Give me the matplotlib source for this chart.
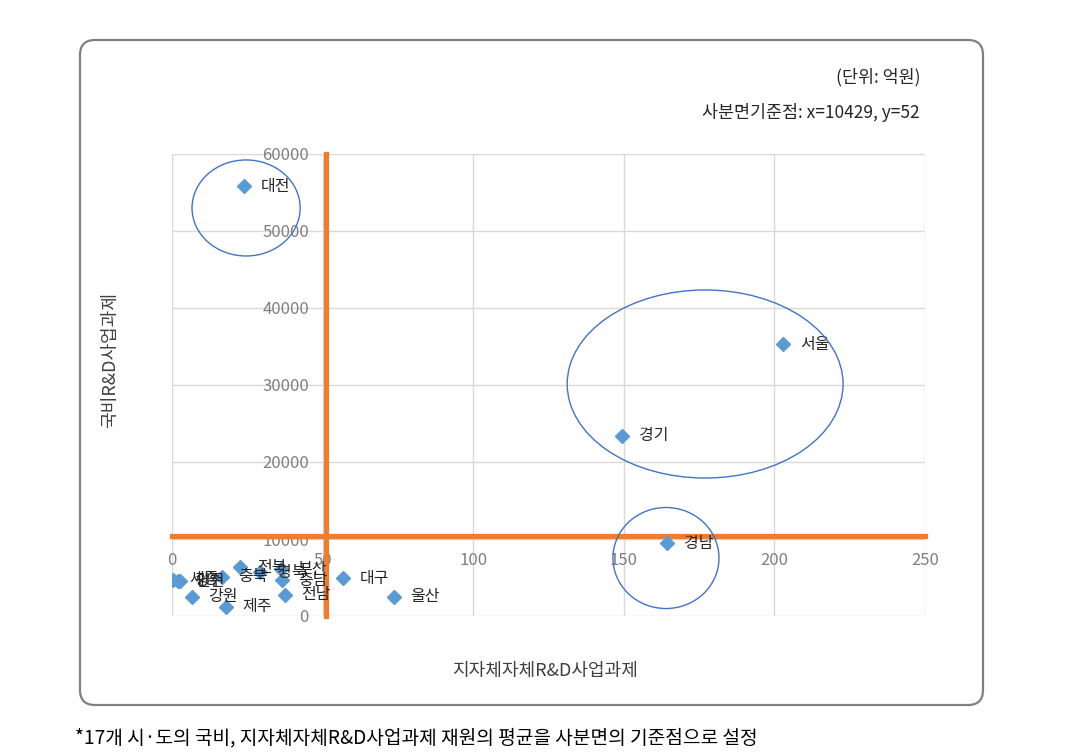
import matplotlib.pyplot as plt
from matplotlib.patches import Ellipse, FancyBboxPatch

plt.rcParams['font.family'] = ['Noto Sans CJK KR', 'DejaVu Sans']

# 시도별 값 (x: 지자체자체R&D사업과제, y: 국비R&D사업과제)
regions = ['대전', '서울', '경기', '경남', '대구', '울산', '전남', '제주', '강원',
           '전북', '충북', '경북', '부산', '충남', '세종', '광주', '인천']
x_vals = [23.9, 202.9, 149.4, 164.3, 56.8, 73.7, 37.5, 17.9, 6.6,
          22.6, 16.6, 29.2, 36.2, 36.5, 0.3, 2.0, 2.5]
y_vals = [55800, 35300, 23400, 9480, 4935, 2470, 2730, 1170, 2470,
          6360, 5065, 5710, 6100, 4675, 4700, 4550, 4500]

# 사분면 기준점
x_ref = 51
y_ref = 10429

# 강조 타원 (중심 x, 중심 y, 폭, 높이)
ell_cx = [24.6, 177.0, 164.0]
ell_cy = [52990, 30130, 7530]
ell_w = [35.9, 91.6, 35.2]
ell_h = [12470, 24420, 13120]

x_ticks = [0, 50, 100, 150, 200, 250]
y_ticks = [0, 10000, 20000, 30000, 40000, 50000, 60000]

fig = plt.figure(figsize=(10.7, 7.56), dpi=100)

# 둥근 테두리
frame = FancyBboxPatch((0.80, 0.51), 9.03, 6.65, boxstyle='round,pad=0,rounding_size=0.15',
                       transform=fig.dpi_scale_trans, fill=False, edgecolor='#808080',
                       linewidth=1.6)
fig.patches.append(frame)

ax = fig.add_axes([172/1070, 1-616/756, 753/1070, 462/756])
ax.set_xlim(0, 250)
ax.set_ylim(0, 60000)
ax.set_xticks(x_ticks)
ax.set_yticks(y_ticks)
ax.grid(True, color='#d9d9d9', linewidth=1)
ax.set_axisbelow(True)

for s in ['top', 'right']:
    ax.spines[s].set_visible(False)
ax.spines['left'].set_position(('data', x_ref))
ax.spines['bottom'].set_position(('data', y_ref))
for s in ['left', 'bottom']:
    ax.spines[s].set_color('#ED7D31')
    ax.spines[s].set_linewidth(3.8)
    ax.spines[s].set_zorder(2.5)

ax.tick_params(length=0, labelsize=12, labelcolor='#7f7f7f', pad=12)

ax.plot(x_vals, y_vals, 'D', color='#5B9BD5', markersize=7, zorder=3)
for name, x, y in zip(regions, x_vals, y_vals):
    ax.annotate(name, (x, y), xytext=(12, 0), textcoords='offset points',
                va='center', ha='left', fontsize=11.5, color='#262626', zorder=4)

for cx, cy, w, h in zip(ell_cx, ell_cy, ell_w, ell_h):
    ax.add_patch(Ellipse((cx, cy), w, h, fill=False, edgecolor='#4472C4', linewidth=1, zorder=4))

fig.text(110/1070, 1-360/756, '국비R&D사업과제', rotation=90, ha='center', va='center',
         fontsize=13, color='#404040')
fig.text(545/1070, 1-671/756, '지자체자체R&D사업과제', ha='center', va='center',
         fontsize=13, color='#404040')
fig.text(920/1070, 1-77/756, '(단위: 억원)', ha='right', va='center', fontsize=12.5, color='#262626')
fig.text(920/1070, 1-112/756, '사분면기준점: x=10429, y=52', ha='right', va='center',
         fontsize=12.5, color='#262626')
fig.text(75/1070, 1-738/756, '*17개 시·도의 국비, 지자체자체R&D사업과제 재원의 평균을 사분면의 기준점으로 설정',
         ha='left', va='center', fontsize=13.8, color='#000000')

plt.savefig('out.png', dpi=100)
